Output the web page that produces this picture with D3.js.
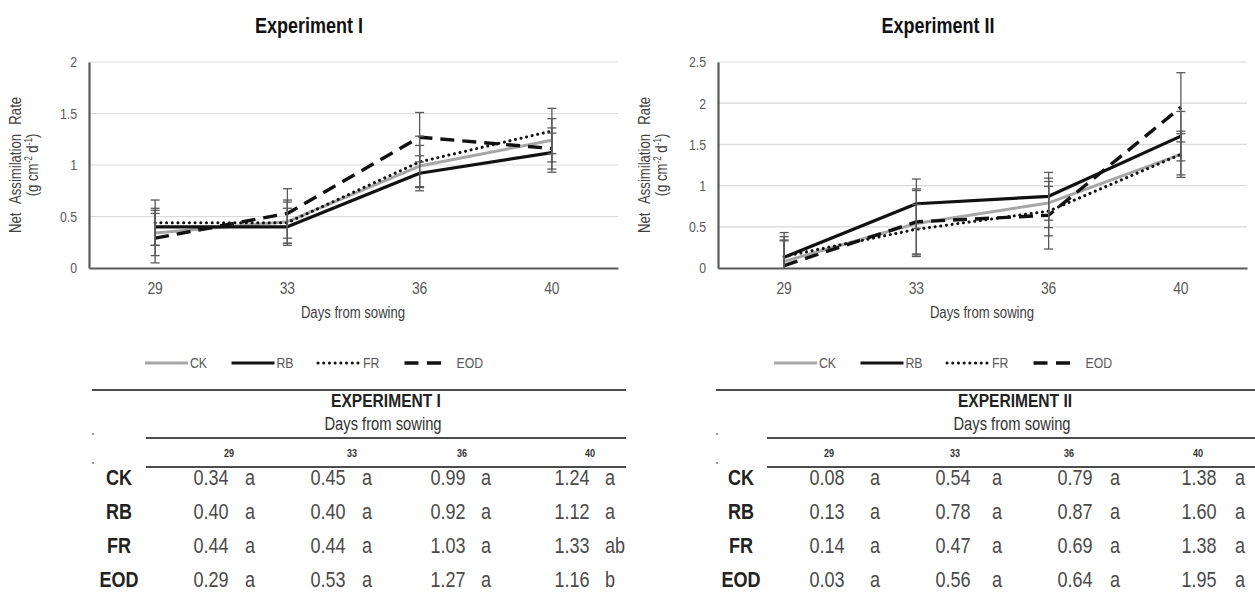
<!DOCTYPE html>
<html><head><meta charset="utf-8">
<script src="https://cdn.jsdelivr.net/npm/d3@7"></script>
<style>
body{margin:0;background:#fff}
svg text{font-family:'Liberation Sans',Arial,sans-serif;}
</style></head><body>
<svg id="fig" width="1255" height="598"></svg>
<script>
// Sampling days and light treatments
const days = ["29", "33", "36", "40"];
const treatments = ["CK", "RB", "FR", "EOD"];

// Experiment I: net assimilation rate (means)
const exp1CK  = [0.34, 0.45, 0.99, 1.24];
const exp1RB  = [0.40, 0.40, 0.92, 1.12];
const exp1FR  = [0.44, 0.44, 1.03, 1.33];
const exp1EOD = [0.29, 0.53, 1.27, 1.16];
// Experiment I: error bar half-widths
const exp1CKErr  = [0.22, 0.21, 0.20, 0.21];
const exp1RBErr  = [0.18, 0.18, 0.17, 0.19];
const exp1FRErr  = [0.22, 0.20, 0.25, 0.22];
const exp1EODErr = [0.24, 0.24, 0.24, 0.20];
// Experiment I: mean separation letters
const exp1CKSig  = ["a", "a", "a", "a"];
const exp1RBSig  = ["a", "a", "a", "a"];
const exp1FRSig  = ["a", "a", "a", "ab"];
const exp1EODSig = ["a", "a", "a", "b"];

// Experiment II: net assimilation rate (means)
const exp2CK  = [0.08, 0.54, 0.79, 1.38];
const exp2RB  = [0.13, 0.78, 0.87, 1.60];
const exp2FR  = [0.14, 0.47, 0.69, 1.38];
const exp2EOD = [0.03, 0.56, 0.64, 1.95];
// Experiment II: error bar half-widths
const exp2CKErr  = [0.30, 0.40, 0.30, 0.28];
const exp2RBErr  = [0.30, 0.30, 0.29, 0.30];
const exp2FRErr  = [0.20, 0.30, 0.30, 0.25];
const exp2EODErr = [0.30, 0.40, 0.41, 0.42];
// Experiment II: mean separation letters
const exp2CKSig  = ["a", "a", "a", "a"];
const exp2RBSig  = ["a", "a", "a", "a"];
const exp2FRSig  = ["a", "a", "a", "a"];
const exp2EODSig = ["a", "a", "a", "a"];

// Y-axis tick values
const exp1Ticks = [0, 0.5, 1, 1.5, 2];
const exp2Ticks = [0, 0.5, 1, 1.5, 2, 2.5];

const styles = {
  CK:  {stroke: "#a6a6a6", width: 3,   dash: null,  cap: "butt"},
  RB:  {stroke: "#111",    width: 3.2, dash: null,  cap: "butt"},
  FR:  {stroke: "#111",    width: 3,   dash: "0.1,5.6", cap: "round"},
  EOD: {stroke: "#111",    width: 3.4, dash: "14,8", cap: "butt"}
};

const NARROW = 0.82; // horizontal squeeze for a narrow sans face
const svg = d3.select("#fig");

// condensed text helper
function ntext(parent, x, y, str, o = {}) {
  const t = parent.append("text")
    .attr("transform", `translate(${x},${y}) scale(${NARROW},1)`)
    .attr("text-anchor", o.anchor || "start")
    .attr("font-size", o.size || 14)
    .attr("font-weight", o.weight || "normal")
    .attr("fill", o.fill || "#404040");
  if (str !== null) t.text(str);
  return t;
}

function panel(cfg) {
  const g = svg.append("g");
  const x = d3.scaleBand().domain(days).range([cfg.left, cfg.left + 529]);
  const y = d3.scaleLinear().domain([0, cfg.ticks[cfg.ticks.length - 1]]).range([268, 62]);
  const cx = d => x(d) + x.bandwidth() / 2;

  // title
  ntext(g, cfg.titleX, 33, cfg.title, {anchor: "middle", size: 22, weight: "bold", fill: "#111"});

  // gridlines
  g.append("g").selectAll("line").data(cfg.ticks.slice(1)).join("line")
    .attr("x1", cfg.left).attr("x2", cfg.left + 529)
    .attr("y1", d => y(d)).attr("y2", d => y(d))
    .attr("stroke", "#d9d9d9").attr("stroke-width", 1.2);

  // y axis
  const ya = g.append("g").attr("transform", `translate(${cfg.left},0)`)
    .call(d3.axisLeft(y).tickValues(cfg.ticks).tickFormat(d3.format("")).tickSize(0));
  ya.select(".domain").attr("stroke", "#595959").attr("stroke-width", 2.2);
  ya.selectAll("text").attr("font-size", 15).attr("fill", "#595959")
    .attr("x", -12 / NARROW).attr("transform", `scale(${NARROW},1)`);

  // x axis
  const xa = g.append("g").attr("transform", "translate(0,268)")
    .call(d3.axisBottom(x).tickSize(0).tickPadding(14));
  xa.select(".domain").attr("stroke", "#595959").attr("stroke-width", 2.2);
  xa.selectAll("text").attr("font-size", 17).attr("fill", "#595959")
    .attr("transform", `scale(${NARROW},1)`);

  // axis titles
  ntext(g, cfg.left + 264, 318, "Days from sowing", {anchor: "middle", size: 16, fill: "#404040"});
  const yt = g.append("text")
    .attr("transform", `translate(${cfg.left - 68},165) rotate(-90) scale(${NARROW},1)`)
    .attr("text-anchor", "middle").attr("font-size", 16).attr("fill", "#404040")
    .attr("word-spacing", 7).text("Net Assimilation Rate");
  const l2 = g.append("text")
    .attr("transform", `translate(${cfg.left - 51},165) rotate(-90) scale(${NARROW},1)`)
    .attr("text-anchor", "middle").attr("font-size", 16).attr("fill", "#404040");
  l2.append("tspan").text("(g cm");
  l2.append("tspan").attr("font-size", 10).attr("dy", -6).text("-2");
  l2.append("tspan").attr("dy", 6).text(" d");
  l2.append("tspan").attr("font-size", 10).attr("dy", -6).text("-1");
  l2.append("tspan").attr("dy", 6).text(")");

  // series lines
  const line = d3.line().x((v, i) => cx(days[i])).y(v => y(v));
  treatments.forEach(t => {
    const s = styles[t];
    g.append("path").datum(cfg.values[t]).attr("d", line).attr("fill", "none")
      .attr("stroke", s.stroke).attr("stroke-width", s.width)
      .attr("stroke-dasharray", s.dash).attr("stroke-linecap", s.cap)
      .attr("stroke-linejoin", "round");
  });

  // error bars
  treatments.forEach(t => {
    const vals = cfg.values[t], errs = cfg.errors[t];
    const eb = g.append("g").attr("stroke", "#595959").attr("stroke-width", 1.3);
    vals.forEach((v, i) => {
      const xc = cx(days[i]);
      const lo = Math.max(0, v - errs[i]), hi = v + errs[i];
      eb.append("line").attr("x1", xc).attr("x2", xc).attr("y1", y(lo)).attr("y2", y(hi));
      eb.append("line").attr("x1", xc - 4.5).attr("x2", xc + 4.5).attr("y1", y(hi)).attr("y2", y(hi));
      if (v - errs[i] > 0)
        eb.append("line").attr("x1", xc - 4.5).attr("x2", xc + 4.5).attr("y1", y(lo)).attr("y2", y(lo));
    });
  });

  // legend
  const lg = g.append("g").attr("transform", `translate(${cfg.left + 56},363)`);
  treatments.forEach((t, i) => {
    const s = styles[t];
    const it = lg.append("g").attr("transform", `translate(${i * 86.5},0)`);
    it.append("line").attr("x1", 0).attr("x2", 43).attr("y1", 0).attr("y2", 0)
      .attr("stroke", s.stroke).attr("stroke-width", s.width)
      .attr("stroke-dasharray", s.dash === "14,8" ? "14,8.5" : s.dash).attr("stroke-linecap", s.cap);
    ntext(it, t === "EOD" ? 52 : 45, 5, t, {size: 15, fill: "#595959"});
  });

  // summary table
  const tb = g.append("g");
  const rule = (x1, x2, yy) => tb.append("line").attr("x1", x1).attr("x2", x2)
    .attr("y1", yy).attr("y2", yy).attr("stroke", "#111").attr("stroke-width", 1.4);
  rule(cfg.tab.x0, cfg.tab.x1, 390);
  rule(cfg.tab.xi, cfg.tab.x1, 438);
  rule(cfg.tab.xi, cfg.tab.x1, 467);
  [438, 467].forEach(yy => tb.append("circle").attr("cx", cfg.tab.x0 + 1).attr("cy", yy - 4)
    .attr("r", 0.9).attr("fill", "#666"));
  ntext(tb, cfg.tab.titleX, 407, cfg.tabTitle, {anchor: "middle", size: 19, weight: "bold", fill: "#222"});
  ntext(tb, cfg.tab.titleX - 3, 430, "Days from sowing", {anchor: "middle", size: 18, fill: "#333"});
  days.forEach((d, i) => ntext(tb, cfg.tab.head[i], 457, d,
    {anchor: "middle", size: 11, weight: "bold", fill: "#333"}));
  const fmt = d3.format(".2f");
  treatments.forEach((t, r) => {
    const yy = 485 + r * 34;
    ntext(tb, cfg.tab.rowX, yy, t, {anchor: "middle", size: 22, weight: "bold", fill: "#222"});
    cfg.values[t].forEach((v, i) => {
      ntext(tb, cfg.tab.val[i], yy, fmt(v), {anchor: "middle", size: 22, fill: "#4a4a4a"});
      ntext(tb, cfg.tab.sig[i], yy, cfg.sig[t][i], {size: 22, fill: "#4a4a4a"});
    });
  });
}

panel({
  title: "Experiment I", titleX: 309, left: 89, ticks: exp1Ticks,
  values: {CK: exp1CK, RB: exp1RB, FR: exp1FR, EOD: exp1EOD},
  errors: {CK: exp1CKErr, RB: exp1RBErr, FR: exp1FRErr, EOD: exp1EODErr},
  sig: {CK: exp1CKSig, RB: exp1RBSig, FR: exp1FRSig, EOD: exp1EODSig},
  tabTitle: "EXPERIMENT I",
  tab: {x0: 92, x1: 626, xi: 146, titleX: 386, rowX: 119,
        head: [229, 352, 462, 590], val: [211, 328, 448, 572], sig: [245, 362, 481, 605]}
});

panel({
  title: "Experiment II", titleX: 938, left: 718, ticks: exp2Ticks,
  values: {CK: exp2CK, RB: exp2RB, FR: exp2FR, EOD: exp2EOD},
  errors: {CK: exp2CKErr, RB: exp2RBErr, FR: exp2FRErr, EOD: exp2EODErr},
  sig: {CK: exp2CKSig, RB: exp2RBSig, FR: exp2FRSig, EOD: exp2EODSig},
  tabTitle: "EXPERIMENT II",
  tab: {x0: 716, x1: 1255, xi: 767, titleX: 1015, rowX: 741,
        head: [829, 955, 1069, 1198], val: [827, 953, 1075, 1199], sig: [870, 992, 1110, 1235]}
});
</script>
</body></html>
